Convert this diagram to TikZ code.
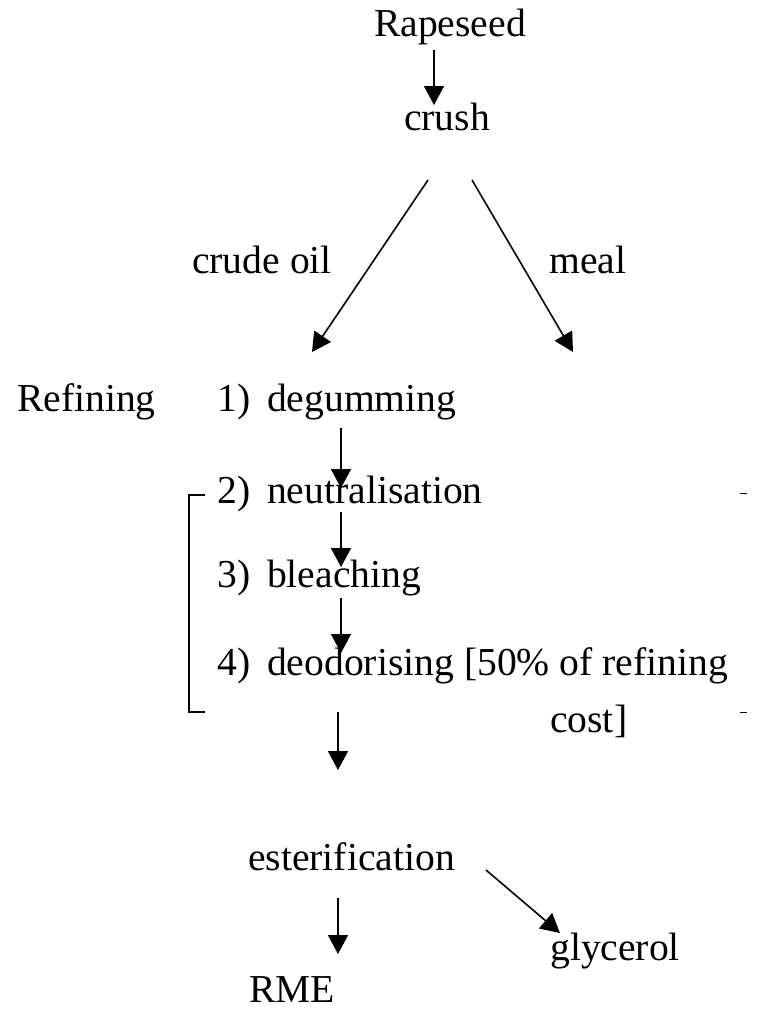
\documentclass[tikz,border=0pt]{standalone}
\usepackage{fontspec}
\setmainfont{Liberation Serif}
\usetikzlibrary{arrows.meta,
                positioning}
\tikzstyle{arrow} = [line width=1.6pt,-{Triangle[width=20pt,length=19pt]}]
\tikzstyle{txt} = [inner sep=0pt, anchor=base west]

\begin{document}
\begin{tikzpicture}[x=1pt,y=-1pt,font=\fontsize{39.6}{47}\selectfont]
    \useasboundingbox (0,0) rectangle (757,1013);

    \node[txt] (seed) at (374,36) {Rapeseed};
    \node[txt] (crush) at (404,130) {crush};
    \node[txt] (oil) at (192,273) {crude oil};
    \node[txt] (meal) at (549,273) {meal};
    \node[txt] (refine) at (17,411) {Refining};
    \node[txt] (deg) at (217,411) {1)\hspace{17pt}degumming};
    \node[txt] (neu) at (217,503) {2)\hspace{17pt}neutralisation};
    \node[txt] (ble) at (217,587) {3)\hspace{17pt}bleaching};
    \node[txt] (deo) at (217,675) {4)\hspace{17pt}deodorising [50\% of refining};
    \node[txt] (cost) at (550,732) {cost]};
    \node[txt] (est) at (248,870) {esterification};
    \node[txt] (gly) at (550,960) {glycerol};
    \node[txt] (rme) at (249,1002) {RME};

    \draw [arrow] ([shift={(60,14)}]seed.base west) -- ([shift={(30,-25)}]crush.base west);
    \draw [arrow] ([shift={(24,50)}]crush.base west) -- ([shift={(95,-59)}]deg.base west);
    \draw [arrow] ([shift={(68,50)}]crush.base west) -- ([shift={(24,79)}]meal.base west);
    \draw [arrow] ([shift={(124,17)}]deg.base west) -- ([shift={(124,-15)}]neu.base west);
    \draw [arrow] ([shift={(124,9)}]neu.base west) -- ([shift={(124,-20)}]ble.base west);
    \draw [arrow] ([shift={(124,11)}]ble.base west) -- ([shift={(124,-22)}]deo.base west);
    \draw [arrow] ([shift={(121,37)}]deo.base west) -- ([shift={(90,-100)}]est.base west);
    \draw [arrow] ([shift={(90,28)}]est.base west) -- ([shift={(89,-48)}]rme.base west);
    \draw [arrow] ([shift={(238,0)}]est.base west) -- ([shift={(10,-27)}]gly.base west);

    % bracket round steps 2-4
    \draw [line width=1.3pt] ([shift={(-12,-8)}]neu.base west) -- ([shift={(-28,-8)}]neu.base west)
        -- ([shift={(-28,209)}]neu.base west) -- ([shift={(-12,209)}]neu.base west);
    \draw [line width=1pt] (740,493) -- (747,493);
    \draw [line width=1pt] (740,712) -- (747,712);
\end{tikzpicture}
\end{document}
